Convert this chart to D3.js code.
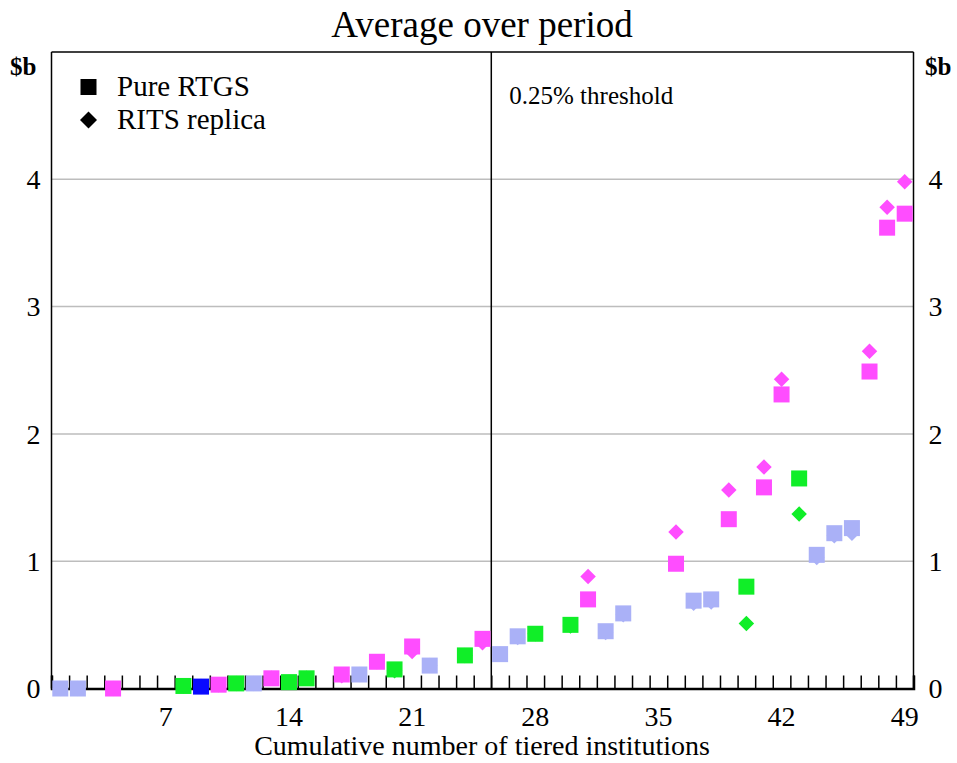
<!DOCTYPE html>
<html>
<head>
<meta charset="utf-8">
<script src="https://cdn.jsdelivr.net/npm/d3@7"></script>
<style>
  html, body { margin: 0; padding: 0; background: #ffffff; }
  svg { display: block; }
  text { font-family: "Liberation Serif", "Times New Roman", serif; fill: #000; }
</style>
</head>
<body>
<div id="chart"></div>
<script>
// ---------------- data ----------------
const title = "Average over period";
const xAxisTitle = "Cumulative number of tiered institutions";
const yUnit = "$b";
const thresholdLabel = "0.25% threshold";
const thresholdPosition = 25;           // boundary after the 25th institution
const seriesNames = ["Pure RTGS", "RITS replica"];
const xTickLabels = [7, 14, 21, 28, 35, 42, 49];
const yTickLabels = [0, 1, 2, 3, 4];

const institutions = [1, 2, 4, 8, 9, 10, 11, 12, 13, 14, 15, 17, 18, 19, 20, 21, 22, 24, 25, 26,
                      27, 28, 30, 31, 32, 33, 36, 37, 38, 39, 40, 41, 42, 43, 44, 45, 46, 47, 48, 49];
const groups = ["L", "L", "P", "G", "B", "P", "G", "L", "P", "G", "G", "P", "L", "P", "G", "P", "L", "G", "P", "L",
                "L", "G", "G", "P", "L", "L", "P", "L", "L", "P", "G", "P", "P", "G", "L", "L", "L", "P", "P", "P"];
const pureRTGS = [0.00, 0.00, 0.00, 0.02, 0.015, 0.03, 0.04, 0.04, 0.08, 0.05, 0.08, 0.11, 0.11, 0.21, 0.15, 0.33, 0.18, 0.26, 0.39, 0.27,
                  0.41, 0.43, 0.50, 0.70, 0.45, 0.59, 0.98, 0.69, 0.70, 1.33, 0.80, 1.58, 2.31, 1.65, 1.05, 1.22, 1.26, 2.49, 3.62, 3.73];
const ritsReplica = [0.00, 0.00, 0.00, 0.02, 0.015, 0.03, 0.04, 0.04, 0.08, 0.05, 0.08, 0.10, 0.11, 0.21, 0.14, 0.29, 0.18, 0.26, 0.36, 0.27,
                     0.40, 0.43, 0.49, 0.88, 0.44, 0.58, 1.23, 0.67, 0.68, 1.56, 0.51, 1.74, 2.43, 1.37, 1.03, 1.20, 1.22, 2.65, 3.78, 3.98];

// ---------------- styling ----------------
const groupColor = { L: "#aab1f7", P: "#ff4dff", G: "#10ee28", B: "#0a0aff" };
const W = 957, H = 763;
const margin = { left: 51.5, right: 957 - 913.5, top: 52, bottom: 763 - 688.5 };

const svg = d3.select("#chart").append("svg").attr("width", W).attr("height", H);

const x = d3.scaleLinear().domain([0, 49]).range([margin.left, W - margin.right]);
const y = d3.scaleLinear().domain([0, 5]).range([H - margin.bottom, margin.top]);
const cx = i => x(i - 0.5);

// gridlines
svg.append("g").selectAll("line").data(yTickLabels.filter(v => v > 0)).join("line")
  .attr("x1", x(0)).attr("x2", x(49))
  .attr("y1", d => y(d)).attr("y2", d => y(d))
  .attr("stroke", "#bdbdbd").attr("stroke-width", 1.5);

// frame
svg.append("line").attr("x1", x(0)).attr("x2", x(49)).attr("y1", y(5)).attr("y2", y(5))
  .attr("stroke", "#000").attr("stroke-width", 1.5);
svg.append("line").attr("x1", x(0)).attr("x2", x(0)).attr("y1", y(5)).attr("y2", y(0))
  .attr("stroke", "#000").attr("stroke-width", 1.5);
svg.append("line").attr("x1", x(49)).attr("x2", x(49)).attr("y1", y(5)).attr("y2", y(0))
  .attr("stroke", "#000").attr("stroke-width", 1.5);

// threshold line
svg.append("line").attr("x1", x(thresholdPosition)).attr("x2", x(thresholdPosition))
  .attr("y1", y(5)).attr("y2", y(0)).attr("stroke", "#000").attr("stroke-width", 1.5);
svg.append("text").attr("x", x(thresholdPosition) + 18).attr("y", 104)
  .attr("font-size", 25).text(thresholdLabel);

// x axis: inward ticks at band boundaries
const xAxisTicks = d3.axisTop(x).tickValues(d3.range(0, 50)).tickSize(13).tickFormat("");
const gx = svg.append("g").attr("transform", `translate(0,${y(0)})`).call(xAxisTicks);
gx.select(".domain").attr("stroke", "#000").attr("stroke-width", 2.5);
gx.selectAll(".tick line").attr("stroke", "#000").attr("stroke-width", 1.5);

// x tick labels at band centres
svg.append("g").selectAll("text").data(xTickLabels).join("text")
  .attr("x", d => cx(d)).attr("y", 726).attr("text-anchor", "middle")
  .attr("font-size", 28).text(d => d);

// y tick labels (left & right)
svg.append("g").selectAll("text").data(yTickLabels).join("text")
  .attr("x", x(0) - 11).attr("y", d => y(d)).attr("dy", "0.35em").attr("text-anchor", "end")
  .attr("font-size", 28).text(d => d);
svg.append("g").selectAll("text").data(yTickLabels).join("text")
  .attr("x", x(49) + 15).attr("y", d => y(d)).attr("dy", "0.35em").attr("text-anchor", "start")
  .attr("font-size", 28).text(d => d);

// units
svg.append("text").attr("x", 10).attr("y", 75).attr("font-size", 25).attr("font-weight", "bold").text(yUnit);
svg.append("text").attr("x", 925).attr("y", 75).attr("font-size", 25).attr("font-weight", "bold").text(yUnit);

// title & x title
svg.append("text").attr("x", 482).attr("y", 37).attr("text-anchor", "middle").attr("font-size", 37).text(title);
svg.append("text").attr("x", 482).attr("y", 755).attr("text-anchor", "middle").attr("font-size", 28).text(xAxisTitle);

// markers
const sq = 16, dia = 15.5;
const pts = institutions.map((inst, k) => ({ inst, g: groups[k], pure: pureRTGS[k], rits: ritsReplica[k] }));
const diamondPath = (px, py, s) => `M${px},${py - s / 2}L${px + s / 2},${py}L${px},${py + s / 2}L${px - s / 2},${py}Z`;

svg.append("g").selectAll("path").data(pts).join("path")
  .attr("d", d => diamondPath(cx(d.inst), y(d.rits), dia))
  .attr("fill", d => groupColor[d.g]);
svg.append("g").selectAll("rect").data(pts).join("rect")
  .attr("x", d => cx(d.inst) - sq / 2).attr("y", d => y(d.pure) - sq / 2)
  .attr("width", sq).attr("height", sq)
  .attr("fill", d => groupColor[d.g]);

// legend
const lg = svg.append("g");
lg.append("rect").attr("x", 80.5).attr("y", 79).attr("width", 16).attr("height", 16).attr("fill", "#000");
lg.append("path").attr("d", diamondPath(88.5, 120, 17)).attr("fill", "#000");
lg.append("text").attr("x", 117).attr("y", 96).attr("font-size", 29).text(seriesNames[0]);
lg.append("text").attr("x", 117).attr("y", 129).attr("font-size", 29).text(seriesNames[1]);
</script>
</body>
</html>
